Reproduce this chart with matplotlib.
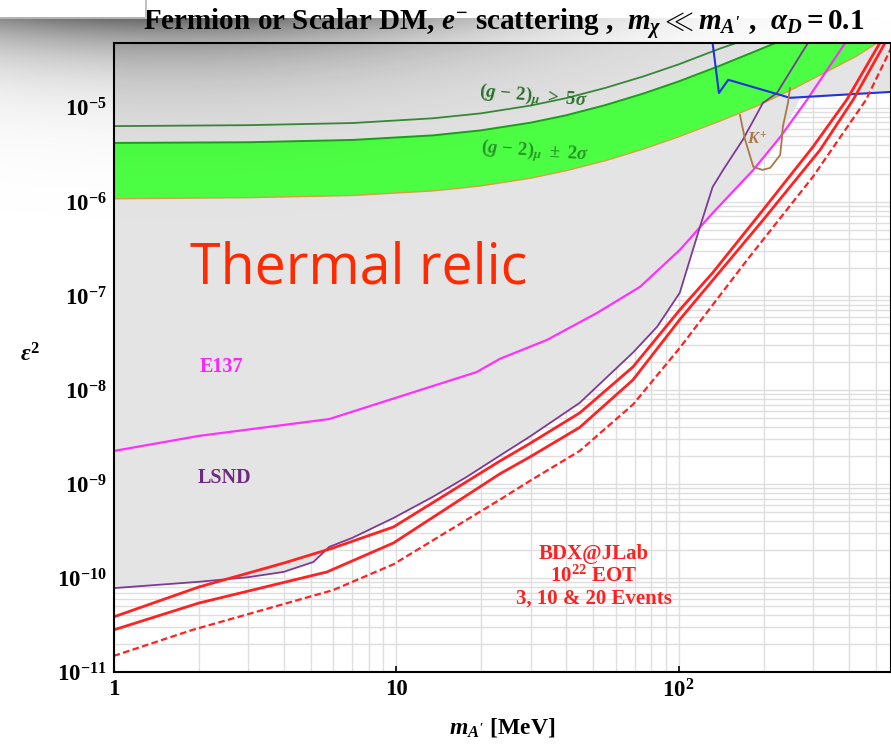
import numpy as np
import matplotlib
matplotlib.use('Agg')
import matplotlib.pyplot as plt
from matplotlib.ticker import FixedLocator, NullFormatter, LogLocator

plt.rcParams['font.family'] = 'Liberation Serif'
plt.rcParams['font.weight'] = 'bold'
plt.rcParams['mathtext.fontset'] = 'custom'
plt.rcParams['mathtext.rm'] = 'Liberation Serif:bold'
plt.rcParams['mathtext.bf'] = 'Liberation Serif:bold'
plt.rcParams['mathtext.it'] = 'Liberation Serif:italic:bold'

# ---- data (m_A' in MeV, epsilon^2) ----
# (g-2)_mu 5 sigma line
g5_x = [1.0, 3.0, 7.0, 13.5, 20, 30, 40, 55, 75, 100, 140, 160]
g5_y = [6.4e-6, 6.55e-6, 6.9e-6, 7.75e-6, 8.75e-6, 1.06e-5, 1.27e-5, 1.63e-5,
        2.16e-5, 2.9e-5, 4.27e-5, 4.9e-5]
# (g-2)_mu +-2 sigma band
band_up_x = [1.0, 3.0, 7.0, 13.5, 20, 30, 40, 55, 75, 100, 140, 190, 220]
band_up_y = [4.24e-6, 4.31e-6, 4.56e-6, 5.1e-6, 5.77e-6, 6.97e-6, 8.34e-6, 1.07e-5,
             1.42e-5, 1.91e-5, 2.81e-5, 4.08e-5, 4.9e-5]
band_lo_x = [1.0, 3.0, 7.0, 13.5, 20, 30, 40, 55, 75, 100, 140, 190, 250, 354, 430, 504]
band_lo_y = [1.08e-6, 1.11e-6, 1.17e-6, 1.31e-6, 1.48e-6, 1.79e-6, 2.15e-6, 2.74e-6,
             3.65e-6, 4.92e-6, 7.23e-6, 1.05e-5, 1.55e-5, 2.65e-5, 3.6e-5, 4.9e-5]
# LSND
lsnd_x = [1.0, 2.0, 3.0, 4.0, 5.1, 5.8, 7.0, 9.8, 13.5, 17.8, 23.3, 29.8, 44.7,
          69, 84, 101, 119, 132, 144, 169, 199, 223, 287]
lsnd_y = [7.8e-11, 9.1e-11, 1.02e-10, 1.16e-10, 1.48e-10, 2.14e-10, 2.67e-10,
          4.35e-10, 7.3e-10, 1.19e-9, 2.0e-9, 3.2e-9, 7.3e-9, 2.5e-8, 4.7e-8,
          1.08e-7, 5.4e-7, 1.44e-6, 2.2e-6, 4.6e-6, 1.13e-5, 1.44e-5, 4.9e-5]
# E137
e137_x = [1.0, 2.0, 5.8, 19.3, 23.3, 34.2, 51.5, 73.1, 101, 132, 184, 229, 285, 389]
e137_y = [2.24e-9, 3.24e-9, 4.9e-9, 1.55e-8, 2.14e-8, 3.4e-8, 6.6e-8, 1.25e-7,
          3.08e-7, 7.6e-7, 2.19e-6, 4.9e-6, 1.22e-5, 4.9e-5]
# BaBar
babar_x = [132, 139, 150, 248, 567]
babar_y = [4.9e-5, 1.44e-5, 1.99e-5, 1.28e-5, 1.48e-5]
# K+ contour
kplus_x = [165, 172, 184, 198, 211, 229, 232, 234, 244, 248]
kplus_y = [8.4e-6, 4.6e-6, 2.36e-6, 2.19e-6, 2.3e-6, 3.16e-6, 4.6e-6, 6.3e-6, 1.13e-5, 1.63e-5]
# excluded region lower boundary (grey)
excl_x = [1.0, 2.0, 3.0, 4.0, 5.1, 5.8, 7.0, 9.8, 13.5, 17.8, 23.3, 29.8, 44.7,
          69, 84, 101, 121, 132, 184, 229, 269, 567]
excl_y = [7.8e-11, 9.1e-11, 1.02e-10, 1.16e-10, 1.48e-10, 2.14e-10, 2.67e-10,
          4.35e-10, 7.3e-10, 1.19e-9, 2.0e-9, 3.2e-9, 7.3e-9, 2.5e-8, 4.7e-8,
          1.08e-7, 6.0e-7, 7.6e-7, 2.2e-6, 4.9e-6, 1.25e-5, 1.48e-5]
# BDX reach: 20, 10 and 3 events
bdx20_x = [1.0, 2.0, 4.0, 6.0, 9.8, 23.3, 29.8, 44.7, 69, 101, 132, 199, 299, 394, 516]
bdx20_y = [3.85e-11, 8.0e-11, 1.44e-10, 2.09e-10, 3.49e-10, 1.75e-9, 2.7e-9, 5.7e-9,
           1.76e-8, 7.1e-8, 1.76e-7, 8.2e-7, 3.85e-6, 1.22e-5, 4.9e-5]
bdx10_x = [1.0, 2.0, 5.7, 9.8, 23.3, 29.8, 44.7, 69, 101, 199, 317, 415, 538]
bdx10_y = [2.8e-11, 5.4e-11, 1.16e-10, 2.36e-10, 1.28e-9, 1.94e-9, 4.0e-9, 1.28e-8,
           5.6e-8, 6.4e-7, 3.57e-6, 1.22e-5, 4.9e-5]
bdx3_x = [1.0, 1.9, 6.0, 9.8, 23.3, 29.8, 44.7, 69, 101, 175, 299, 461, 565]
bdx3_y = [1.48e-11, 2.8e-11, 7.45e-11, 1.4e-10, 6.8e-10, 1.08e-9, 2.25e-9, 7.0e-9,
          2.8e-8, 2.42e-7, 1.85e-6, 1.22e-5, 4.3e-5]

x_min, x_max = 1.0, 565.0
y_min, y_max = 1e-11, 4.9e-5

fig = plt.figure(figsize=(8.91, 7.44), dpi=100)
ax = fig.add_axes([113.5 / 891, 72 / 744, (891 - 113.5) / 891, 629 / 744])
ax.set_xscale('log')
ax.set_yscale('log')
ax.set_xlim(x_min, x_max)
ax.set_ylim(y_min, y_max)

# grid on every decade subdivision
ax.xaxis.set_minor_locator(LogLocator(base=10, subs=np.arange(2, 10)))
ax.yaxis.set_minor_locator(LogLocator(base=10, subs=np.arange(2, 10), numticks=30))
ax.grid(True, which='both', color='#dedede', lw=1.0, zorder=0)
ax.set_axisbelow(True)

# excluded region
gx = excl_x + [x_max * 1.2, x_min]
gy = excl_y + [y_max * 1.5, y_max * 1.5]
ax.fill(gx, gy, color='#e4e4e4', lw=0, zorder=1)

# g-2 band
ax.fill(band_up_x + band_lo_x[::-1], band_up_y + band_lo_y[::-1],
        color='#4cff44', lw=0, zorder=2)
ax.plot(band_up_x, band_up_y, color='#1f9e1f', lw=1.4, zorder=3)
ax.plot(band_lo_x, band_lo_y, color='#d8a040', lw=1.0, zorder=3)
ax.plot(g5_x, g5_y, color='#3a8a3a', lw=1.3, zorder=3)

ax.plot(e137_x, e137_y, color='#ff30ff', lw=1.6, zorder=4)
ax.plot(lsnd_x, lsnd_y, color='#7e3a94', lw=1.3, zorder=4)
ax.plot(babar_x, babar_y, color='#2233dd', lw=1.5, zorder=4)
ax.plot(kplus_x, kplus_y, color='#a87848', lw=1.3, zorder=4)

ax.plot(bdx20_x, bdx20_y, color='#ff2222', lw=2.0, zorder=5)
ax.plot(bdx10_x, bdx10_y, color='#ff2222', lw=2.0, zorder=5)
ax.plot(bdx3_x, bdx3_y, color='#ff2222', lw=1.6, ls=(0, (3, 1.5)), zorder=5)

# labels inside the plot
ax.text(30.5, 1.3e-5, r'$(g\,-\,2)_{\mu}\ >\ 5\sigma$', color='#2a742a', fontsize=13.5,
        ha='center', va='center', rotation=-5, zorder=6)
ax.text(31, 3.4e-6, r'$(g\,-\,2)_{\mu}\ \pm\ 2\sigma$', color='#2a962a', fontsize=13.5,
        ha='center', va='center', rotation=-4, zorder=6)
ax.text(2.42, 1.76e-8, 'E137', color='#ff22ff', fontsize=14.5, ha='center', va='center', zorder=6)
ax.text(2.48, 1.16e-9, 'LSND', color='#6e2a80', fontsize=14.5, ha='center', va='center', zorder=6)
ax.text(190, 4.6e-6, r'$K^{+}$', color='#a87848', fontsize=12, ha='center', va='center', zorder=6)
ax.text(1.87, 1.37e-7, 'Thermal relic', color='#ff2a00', fontsize=40, fontweight='normal',
        family='Open Sans', ha='left', va='baseline', zorder=6)
ax.text(50.2, 1.05e-10, 'BDX@JLab\n' + r'$10^{22}$' + ' EOT\n3, 10 & 20 Events',
        color='#ff2020', fontsize=15, ha='center', va='center', linespacing=1.1, zorder=6)

# ticks
ax.xaxis.set_major_locator(FixedLocator([1, 10, 100]))
ax.set_xticklabels(['1', '10', r'$10^{2}$'])
ax.xaxis.set_minor_formatter(NullFormatter())
y_ticks = [1e-11, 1e-10, 1e-9, 1e-8, 1e-7, 1e-6, 1e-5]
ax.yaxis.set_major_locator(FixedLocator(y_ticks))
ax.set_yticklabels([r'$10^{-%d}$' % k for k in range(11, 4, -1)])
ax.yaxis.set_minor_formatter(NullFormatter())
ax.tick_params(which='major', direction='in', length=4, width=1.2, labelsize=16.5,
               top=False, right=False, pad=5)
ax.tick_params(which='minor', length=0)
for s in ax.spines.values():
    s.set_linewidth(1.5)
    s.set_zorder(10)

ax.set_xlabel(r"$m_{A'}$ [MeV]", fontsize=17, fontweight='bold', labelpad=10)
fig.text(30 / 891, 1 - 355 / 744, r'$\epsilon^{2}$', fontsize=17, ha='center', va='center')
fig.text(504 / 891, 1 - 25 / 744,
         r"Fermion or Scalar DM, $e^{-}$ scattering ,  $m_{\chi} \ll m_{A'}$ ,  $\alpha_{D} = 0.1$",
         fontsize=21, ha='center', va='center')

# soft shadow of a pasted box in the upper left corner
H, W = 744, 891
yy, xx = np.mgrid[0:H, 0:W].astype(float)
alpha = 0.6 * np.exp(-np.clip(yy - 18, 0, None) / 40.0) * np.exp(-((xx - 170) / 340.0) ** 2)
alpha[yy < 18] = 0
shade = np.zeros((H, W, 4))
shade[..., 3] = alpha
box = (yy < 18) & (xx < 146)
shade[box] = [1, 1, 1, 1]
shade[(yy >= 17) & (yy < 19) & (xx < 146)] = [0.7, 0.7, 0.7, 1]
shade[(yy < 19) & (xx >= 145) & (xx < 147)] = [0.75, 0.75, 0.75, 1]
sax = fig.add_axes([0, 0, 1, 1], zorder=20)
sax.imshow(shade, aspect='auto', interpolation='bilinear')
sax.axis('off')

fig.savefig('out.png', dpi=100)
